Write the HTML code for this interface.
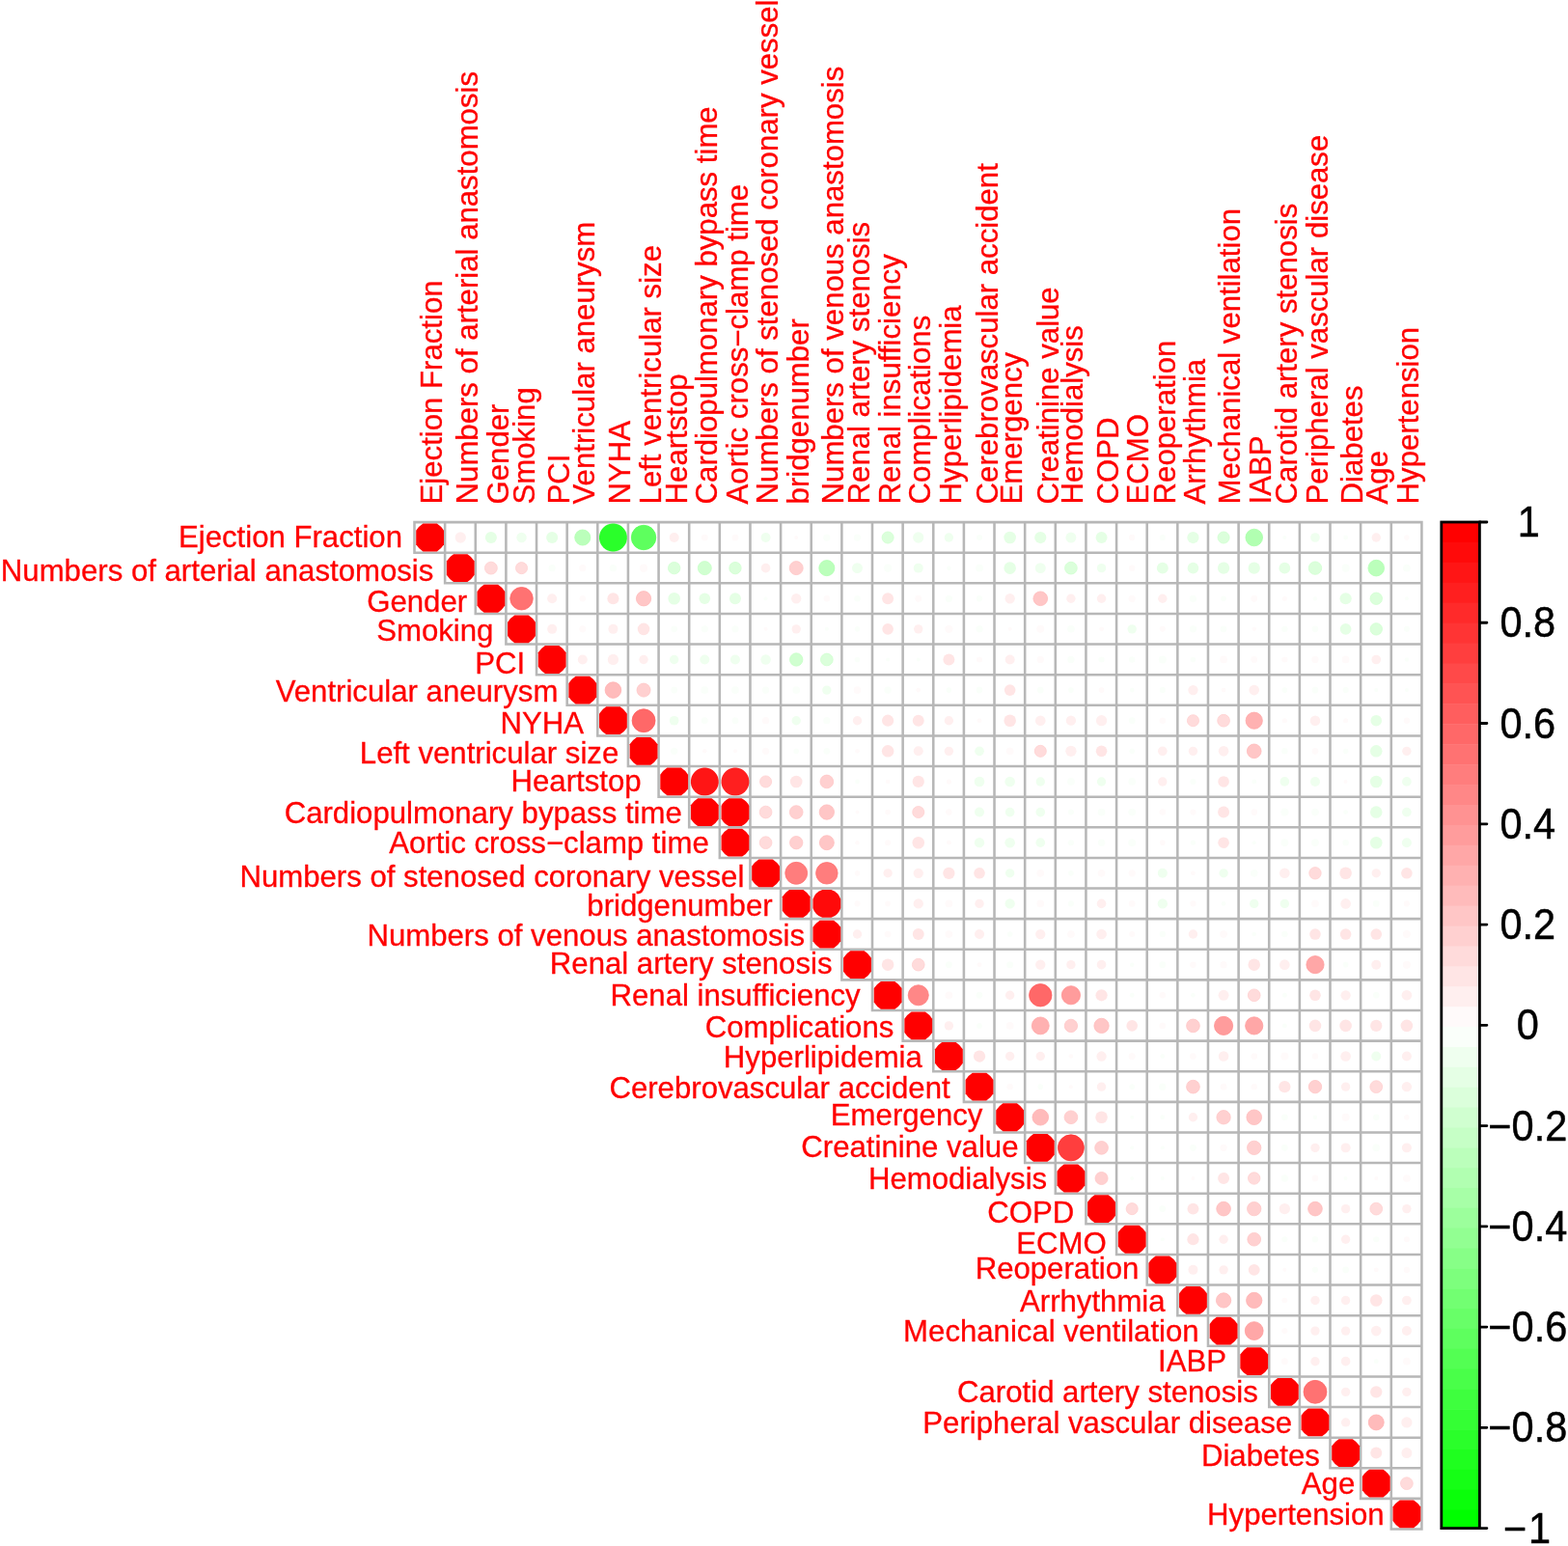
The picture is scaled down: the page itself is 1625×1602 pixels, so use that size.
<!DOCTYPE html>
<html lang="en"><head><meta charset="utf-8"><title>Correlation plot</title>
<style>html,body{margin:0;padding:0;background:#fff}body{width:1625px;height:1602px;overflow:hidden}svg{display:block}text{font-family:"Liberation Sans",Arial,Helvetica,sans-serif}.tl{fill:#ff0000;font-size:31.17px;stroke:#ff0000;stroke-width:0.3px}.cl{fill:#000;font-size:41.5px;text-anchor:middle;stroke:#000;stroke-width:0.45px}</style></head><body>
<svg width="1625" height="1602" viewBox="0 0 1625 1602">
<rect width="1625" height="1602" fill="#fff"/>
<path d="M428.23 541.10H1474.68M428.23 572.72H1474.68M459.86 604.34H1474.68M491.49 635.95H1474.68M523.12 667.57H1474.68M554.76 699.19H1474.68M586.39 730.81H1474.68M618.02 762.43H1474.68M649.66 794.05H1474.68M681.29 825.66H1474.68M712.93 857.28H1474.68M744.56 888.90H1474.68M776.19 920.52H1474.68M807.83 952.14H1474.68M839.46 983.75H1474.68M871.09 1015.37H1474.68M902.73 1046.99H1474.68M934.36 1078.61H1474.68M965.99 1110.23H1474.68M997.63 1141.85H1474.68M1029.26 1173.46H1474.68M1060.89 1205.08H1474.68M1092.53 1236.70H1474.68M1124.16 1268.32H1474.68M1155.79 1299.94H1474.68M1187.42 1331.55H1474.68M1219.06 1363.17H1474.68M1250.69 1394.79H1474.68M1282.33 1426.41H1474.68M1313.96 1458.03H1474.68M1345.59 1489.65H1474.68M1377.22 1521.26H1474.68M1408.86 1552.88H1474.68M1440.49 1584.50H1474.68M429.50 539.83V573.99M461.13 539.83V605.61M492.77 539.83V637.23M524.40 539.83V668.85M556.03 539.83V700.47M587.67 539.83V732.08M619.30 539.83V763.70M650.93 539.83V795.32M682.57 539.83V826.94M714.20 539.83V858.56M745.83 539.83V890.18M777.47 539.83V921.79M809.10 539.83V953.41M840.73 539.83V985.03M872.37 539.83V1016.65M904.00 539.83V1048.27M935.63 539.83V1079.88M967.27 539.83V1111.50M998.90 539.83V1143.12M1030.53 539.83V1174.74M1062.17 539.83V1206.36M1093.80 539.83V1237.98M1125.43 539.83V1269.59M1157.07 539.83V1301.21M1188.70 539.83V1332.83M1220.33 539.83V1364.45M1251.97 539.83V1396.07M1283.60 539.83V1427.68M1315.23 539.83V1459.30M1346.87 539.83V1490.92M1378.50 539.83V1522.54M1410.13 539.83V1554.16M1441.77 539.83V1585.78M1473.40 539.83V1585.78" stroke="#b7b7b7" stroke-width="2.55" fill="none"/>
<path d="M438.42 542.61L452.82 542.61A22.54 22.54 0 0 1 460.02 549.81L460.02 564.21A22.54 22.54 0 0 1 452.82 571.41L438.42 571.41A22.54 22.54 0 0 1 431.22 564.21L431.22 549.81A22.54 22.54 0 0 1 438.42 542.61Z" fill="#ff0000"/>
<circle cx="477.25" cy="557.01" r="5.64" fill="#ffefef"/>
<circle cx="508.88" cy="557.01" r="6.04" fill="#e5ffe5"/>
<circle cx="540.52" cy="557.01" r="5.23" fill="#efffef"/>
<circle cx="572.15" cy="557.01" r="6.04" fill="#e5ffe5"/>
<circle cx="603.78" cy="557.01" r="8.05" fill="#bbffbb" stroke="#b1ffb1" stroke-width="0.8"/>
<path d="M634.22 542.61L636.62 542.61A14.45 14.45 0 0 1 649.82 555.81L649.82 558.21A14.45 14.45 0 0 1 636.62 571.41L634.22 571.41A14.45 14.45 0 0 1 621.02 558.21L621.02 555.81A14.45 14.45 0 0 1 634.22 542.61Z" fill="#2aff2a"/>
<circle cx="667.05" cy="557.01" r="12.71" fill="#5eff5e" stroke="#53ff53" stroke-width="0.8"/>
<circle cx="698.68" cy="557.01" r="4.99" fill="#ffefef"/>
<circle cx="730.32" cy="557.01" r="3.38" fill="#fffafa"/>
<circle cx="761.95" cy="557.01" r="3.38" fill="#fffafa"/>
<circle cx="793.58" cy="557.01" r="4.99" fill="#efffef"/>
<circle cx="825.22" cy="557.01" r="2.01" fill="#fffafa"/>
<circle cx="856.85" cy="557.01" r="3.62" fill="#fafffa"/>
<circle cx="888.48" cy="557.01" r="3.62" fill="#fafffa"/>
<circle cx="920.12" cy="557.01" r="6.04" fill="#dbffdb" stroke="#d0ffd0" stroke-width="0.8"/>
<circle cx="951.75" cy="557.01" r="5.64" fill="#efffef"/>
<circle cx="983.38" cy="557.01" r="4.68" fill="#efffef"/>
<circle cx="1015.02" cy="557.01" r="3.06" fill="#fafffa"/>
<circle cx="1046.65" cy="557.01" r="6.28" fill="#e5ffe5"/>
<circle cx="1078.28" cy="557.01" r="6.12" fill="#e5ffe5"/>
<circle cx="1109.92" cy="557.01" r="5.47" fill="#efffef"/>
<circle cx="1141.55" cy="557.01" r="5.96" fill="#e5ffe5"/>
<circle cx="1173.18" cy="557.01" r="3.22" fill="#fffafa"/>
<circle cx="1204.82" cy="557.01" r="3.06" fill="#fafffa"/>
<circle cx="1236.45" cy="557.01" r="6.12" fill="#e5ffe5"/>
<circle cx="1268.08" cy="557.01" r="6.04" fill="#dbffdb" stroke="#d0ffd0" stroke-width="0.8"/>
<circle cx="1299.72" cy="557.01" r="8.78" fill="#b1ffb1" stroke="#a7ffa7" stroke-width="0.8"/>
<circle cx="1331.35" cy="557.01" r="2.01" fill="#fafffa"/>
<circle cx="1362.98" cy="557.01" r="4.83" fill="#efffef"/>
<circle cx="1394.62" cy="557.01" r="2.42" fill="#fafffa"/>
<circle cx="1426.25" cy="557.01" r="4.68" fill="#ffefef"/>
<circle cx="1457.88" cy="557.01" r="2.82" fill="#fffafa"/>
<path d="M470.05 574.23L484.45 574.23A22.54 22.54 0 0 1 491.65 581.43L491.65 595.83A22.54 22.54 0 0 1 484.45 603.03L470.05 603.03A22.54 22.54 0 0 1 462.85 595.83L462.85 581.43A22.54 22.54 0 0 1 470.05 574.23Z" fill="#ff0000"/>
<circle cx="508.88" cy="588.63" r="6.44" fill="#ffdbdb" stroke="#ffd0d0" stroke-width="0.8"/>
<circle cx="540.52" cy="588.63" r="6.04" fill="#ffdbdb" stroke="#ffd0d0" stroke-width="0.8"/>
<circle cx="572.15" cy="588.63" r="3.62" fill="#fafffa"/>
<circle cx="603.78" cy="588.63" r="3.62" fill="#fffafa"/>
<circle cx="635.42" cy="588.63" r="3.62" fill="#fafffa"/>
<circle cx="667.05" cy="588.63" r="4.03" fill="#fffafa"/>
<circle cx="698.68" cy="588.63" r="6.20" fill="#dbffdb" stroke="#d0ffd0" stroke-width="0.8"/>
<circle cx="730.32" cy="588.63" r="7.01" fill="#d0ffd0" stroke="#c6ffc6" stroke-width="0.8"/>
<circle cx="761.95" cy="588.63" r="6.20" fill="#dbffdb" stroke="#d0ffd0" stroke-width="0.8"/>
<circle cx="793.58" cy="588.63" r="4.83" fill="#ffefef"/>
<circle cx="825.22" cy="588.63" r="7.01" fill="#ffd0d0" stroke="#ffc6c6" stroke-width="0.8"/>
<circle cx="856.85" cy="588.63" r="8.05" fill="#bbffbb" stroke="#b1ffb1" stroke-width="0.8"/>
<circle cx="888.48" cy="588.63" r="5.47" fill="#efffef"/>
<circle cx="920.12" cy="588.63" r="4.03" fill="#fafffa"/>
<circle cx="951.75" cy="588.63" r="4.99" fill="#efffef"/>
<circle cx="983.38" cy="588.63" r="2.25" fill="#fafffa"/>
<circle cx="1015.02" cy="588.63" r="3.86" fill="#fafffa"/>
<circle cx="1046.65" cy="588.63" r="6.28" fill="#e5ffe5"/>
<circle cx="1078.28" cy="588.63" r="5.47" fill="#efffef"/>
<circle cx="1109.92" cy="588.63" r="6.36" fill="#dbffdb" stroke="#d0ffd0" stroke-width="0.8"/>
<circle cx="1141.55" cy="588.63" r="4.68" fill="#efffef"/>
<circle cx="1173.18" cy="588.63" r="3.22" fill="#fffafa"/>
<circle cx="1204.82" cy="588.63" r="5.96" fill="#e5ffe5"/>
<circle cx="1236.45" cy="588.63" r="5.80" fill="#e5ffe5"/>
<circle cx="1268.08" cy="588.63" r="6.12" fill="#e5ffe5"/>
<circle cx="1299.72" cy="588.63" r="6.12" fill="#e5ffe5"/>
<circle cx="1331.35" cy="588.63" r="5.88" fill="#e5ffe5"/>
<circle cx="1362.98" cy="588.63" r="6.69" fill="#dbffdb" stroke="#d0ffd0" stroke-width="0.8"/>
<circle cx="1394.62" cy="588.63" r="4.03" fill="#fafffa"/>
<circle cx="1426.25" cy="588.63" r="8.30" fill="#bbffbb" stroke="#b1ffb1" stroke-width="0.8"/>
<circle cx="1457.88" cy="588.63" r="3.86" fill="#fafffa"/>
<path d="M501.68 605.85L516.08 605.85A22.54 22.54 0 0 1 523.28 613.04L523.28 627.45A22.54 22.54 0 0 1 516.08 634.65L501.68 634.65A22.54 22.54 0 0 1 494.48 627.45L494.48 613.04A22.54 22.54 0 0 1 501.68 605.85Z" fill="#ff0000"/>
<circle cx="540.52" cy="620.25" r="11.76" fill="#ff7272" stroke="#ff6868" stroke-width="0.8"/>
<circle cx="572.15" cy="620.25" r="4.99" fill="#ffefef"/>
<circle cx="603.78" cy="620.25" r="3.22" fill="#fffafa"/>
<circle cx="635.42" cy="620.25" r="6.04" fill="#ffe5e5"/>
<circle cx="667.05" cy="620.25" r="7.65" fill="#ffc6c6" stroke="#ffbbbb" stroke-width="0.8"/>
<circle cx="698.68" cy="620.25" r="6.28" fill="#e5ffe5"/>
<circle cx="730.32" cy="620.25" r="5.80" fill="#e5ffe5"/>
<circle cx="761.95" cy="620.25" r="5.96" fill="#e5ffe5"/>
<circle cx="793.58" cy="620.25" r="2.01" fill="#fafffa"/>
<circle cx="825.22" cy="620.25" r="5.15" fill="#ffefef"/>
<circle cx="856.85" cy="620.25" r="3.22" fill="#fffafa"/>
<circle cx="888.48" cy="620.25" r="3.22" fill="#fafffa"/>
<circle cx="920.12" cy="620.25" r="5.96" fill="#ffe5e5"/>
<circle cx="951.75" cy="620.25" r="3.38" fill="#fffafa"/>
<circle cx="983.38" cy="620.25" r="3.62" fill="#fafffa"/>
<circle cx="1015.02" cy="620.25" r="3.22" fill="#fafffa"/>
<circle cx="1046.65" cy="620.25" r="5.15" fill="#ffefef"/>
<circle cx="1078.28" cy="620.25" r="7.33" fill="#ffc6c6" stroke="#ffbbbb" stroke-width="0.8"/>
<circle cx="1109.92" cy="620.25" r="4.68" fill="#ffefef"/>
<circle cx="1141.55" cy="620.25" r="4.68" fill="#ffefef"/>
<circle cx="1173.18" cy="620.25" r="3.62" fill="#fffafa"/>
<circle cx="1204.82" cy="620.25" r="4.68" fill="#ffefef"/>
<circle cx="1236.45" cy="620.25" r="3.62" fill="#fafffa"/>
<circle cx="1268.08" cy="620.25" r="2.82" fill="#fafffa"/>
<circle cx="1299.72" cy="620.25" r="3.38" fill="#fffafa"/>
<circle cx="1331.35" cy="620.25" r="2.57" fill="#fffafa"/>
<circle cx="1362.98" cy="620.25" r="2.25" fill="#fafffa"/>
<circle cx="1394.62" cy="620.25" r="6.12" fill="#e5ffe5"/>
<circle cx="1426.25" cy="620.25" r="6.20" fill="#dbffdb" stroke="#d0ffd0" stroke-width="0.8"/>
<circle cx="1457.88" cy="620.25" r="2.01" fill="#fafffa"/>
<path d="M533.32 637.46L547.72 637.46A22.54 22.54 0 0 1 554.92 644.66L554.92 659.06A22.54 22.54 0 0 1 547.72 666.26L533.32 666.26A22.54 22.54 0 0 1 526.12 659.06L526.12 644.66A22.54 22.54 0 0 1 533.32 637.46Z" fill="#ff0000"/>
<circle cx="572.15" cy="651.86" r="4.99" fill="#ffefef"/>
<circle cx="603.78" cy="651.86" r="3.62" fill="#fffafa"/>
<circle cx="635.42" cy="651.86" r="4.99" fill="#ffefef"/>
<circle cx="667.05" cy="651.86" r="6.28" fill="#ffe5e5"/>
<circle cx="698.68" cy="651.86" r="3.38" fill="#fafffa"/>
<circle cx="730.32" cy="651.86" r="3.62" fill="#fafffa"/>
<circle cx="761.95" cy="651.86" r="3.62" fill="#fafffa"/>
<circle cx="793.58" cy="651.86" r="2.01" fill="#fffafa"/>
<circle cx="825.22" cy="651.86" r="4.68" fill="#ffefef"/>
<circle cx="856.85" cy="651.86" r="2.01" fill="#fafffa"/>
<circle cx="888.48" cy="651.86" r="2.82" fill="#fafffa"/>
<circle cx="920.12" cy="651.86" r="5.80" fill="#ffe5e5"/>
<circle cx="951.75" cy="651.86" r="4.68" fill="#ffefef"/>
<circle cx="983.38" cy="651.86" r="4.19" fill="#fffafa"/>
<circle cx="1015.02" cy="651.86" r="3.62" fill="#fafffa"/>
<circle cx="1046.65" cy="651.86" r="2.01" fill="#fffafa"/>
<circle cx="1078.28" cy="651.86" r="4.03" fill="#fffafa"/>
<circle cx="1109.92" cy="651.86" r="3.86" fill="#fafffa"/>
<circle cx="1141.55" cy="651.86" r="2.42" fill="#fffafa"/>
<circle cx="1173.18" cy="651.86" r="4.68" fill="#efffef"/>
<circle cx="1204.82" cy="651.86" r="3.06" fill="#fffafa"/>
<circle cx="1236.45" cy="651.86" r="3.62" fill="#fafffa"/>
<circle cx="1268.08" cy="651.86" r="3.38" fill="#fafffa"/>
<circle cx="1299.72" cy="651.86" r="2.25" fill="#fffafa"/>
<circle cx="1331.35" cy="651.86" r="3.22" fill="#fafffa"/>
<circle cx="1362.98" cy="651.86" r="3.38" fill="#fafffa"/>
<circle cx="1394.62" cy="651.86" r="5.88" fill="#e5ffe5"/>
<circle cx="1426.25" cy="651.86" r="6.20" fill="#dbffdb" stroke="#d0ffd0" stroke-width="0.8"/>
<circle cx="1457.88" cy="651.86" r="3.06" fill="#fafffa"/>
<path d="M564.95 669.08L579.35 669.08A22.54 22.54 0 0 1 586.55 676.28L586.55 690.68A22.54 22.54 0 0 1 579.35 697.88L564.95 697.88A22.54 22.54 0 0 1 557.75 690.68L557.75 676.28A22.54 22.54 0 0 1 564.95 669.08Z" fill="#ff0000"/>
<circle cx="603.78" cy="683.48" r="4.99" fill="#ffefef"/>
<circle cx="635.42" cy="683.48" r="5.64" fill="#ffefef"/>
<circle cx="667.05" cy="683.48" r="4.68" fill="#ffefef"/>
<circle cx="698.68" cy="683.48" r="4.68" fill="#efffef"/>
<circle cx="730.32" cy="683.48" r="4.99" fill="#efffef"/>
<circle cx="761.95" cy="683.48" r="4.99" fill="#efffef"/>
<circle cx="793.58" cy="683.48" r="5.23" fill="#efffef"/>
<circle cx="825.22" cy="683.48" r="6.69" fill="#d0ffd0" stroke="#c6ffc6" stroke-width="0.8"/>
<circle cx="856.85" cy="683.48" r="6.36" fill="#dbffdb" stroke="#d0ffd0" stroke-width="0.8"/>
<circle cx="888.48" cy="683.48" r="2.82" fill="#fafffa"/>
<circle cx="920.12" cy="683.48" r="2.01" fill="#fafffa"/>
<circle cx="951.75" cy="683.48" r="2.01" fill="#fafffa"/>
<circle cx="983.38" cy="683.48" r="5.96" fill="#ffe5e5"/>
<circle cx="1015.02" cy="683.48" r="3.06" fill="#fffafa"/>
<circle cx="1046.65" cy="683.48" r="4.99" fill="#ffefef"/>
<circle cx="1078.28" cy="683.48" r="3.62" fill="#fffafa"/>
<circle cx="1109.92" cy="683.48" r="3.62" fill="#fafffa"/>
<circle cx="1141.55" cy="683.48" r="3.06" fill="#fafffa"/>
<circle cx="1173.18" cy="683.48" r="3.22" fill="#fafffa"/>
<circle cx="1204.82" cy="683.48" r="4.03" fill="#fafffa"/>
<circle cx="1236.45" cy="683.48" r="2.82" fill="#fafffa"/>
<circle cx="1268.08" cy="683.48" r="3.86" fill="#fffafa"/>
<circle cx="1299.72" cy="683.48" r="3.38" fill="#fffafa"/>
<circle cx="1331.35" cy="683.48" r="3.06" fill="#fffafa"/>
<circle cx="1362.98" cy="683.48" r="3.62" fill="#fffafa"/>
<circle cx="1394.62" cy="683.48" r="3.86" fill="#fffafa"/>
<circle cx="1426.25" cy="683.48" r="4.83" fill="#ffefef"/>
<circle cx="1457.88" cy="683.48" r="2.25" fill="#fafffa"/>
<path d="M596.58 700.70L610.98 700.70A22.54 22.54 0 0 1 618.18 707.90L618.18 722.30A22.54 22.54 0 0 1 610.98 729.50L596.58 729.50A22.54 22.54 0 0 1 589.38 722.30L589.38 707.90A22.54 22.54 0 0 1 596.58 700.70Z" fill="#ff0000"/>
<circle cx="635.42" cy="715.10" r="8.30" fill="#ffbbbb" stroke="#ffb1b1" stroke-width="0.8"/>
<circle cx="667.05" cy="715.10" r="7.01" fill="#ffd0d0" stroke="#ffc6c6" stroke-width="0.8"/>
<circle cx="698.68" cy="715.10" r="3.38" fill="#fafffa"/>
<circle cx="730.32" cy="715.10" r="3.86" fill="#fafffa"/>
<circle cx="761.95" cy="715.10" r="3.86" fill="#fafffa"/>
<circle cx="793.58" cy="715.10" r="3.62" fill="#fafffa"/>
<circle cx="825.22" cy="715.10" r="3.86" fill="#fafffa"/>
<circle cx="856.85" cy="715.10" r="4.68" fill="#efffef"/>
<circle cx="888.48" cy="715.10" r="3.86" fill="#fffafa"/>
<circle cx="920.12" cy="715.10" r="3.62" fill="#fafffa"/>
<circle cx="951.75" cy="715.10" r="2.42" fill="#fffafa"/>
<circle cx="983.38" cy="715.10" r="2.82" fill="#fafffa"/>
<circle cx="1015.02" cy="715.10" r="3.38" fill="#fafffa"/>
<circle cx="1046.65" cy="715.10" r="5.80" fill="#ffe5e5"/>
<circle cx="1078.28" cy="715.10" r="3.38" fill="#fafffa"/>
<circle cx="1109.92" cy="715.10" r="2.82" fill="#fafffa"/>
<circle cx="1141.55" cy="715.10" r="2.82" fill="#fffafa"/>
<circle cx="1173.18" cy="715.10" r="2.42" fill="#fafffa"/>
<circle cx="1204.82" cy="715.10" r="3.06" fill="#fafffa"/>
<circle cx="1236.45" cy="715.10" r="5.15" fill="#ffefef"/>
<circle cx="1268.08" cy="715.10" r="2.42" fill="#fffafa"/>
<circle cx="1299.72" cy="715.10" r="5.31" fill="#ffefef"/>
<circle cx="1331.35" cy="715.10" r="2.82" fill="#fafffa"/>
<circle cx="1362.98" cy="715.10" r="3.38" fill="#fafffa"/>
<circle cx="1394.62" cy="715.10" r="3.06" fill="#fafffa"/>
<circle cx="1426.25" cy="715.10" r="2.01" fill="#fafffa"/>
<circle cx="1457.88" cy="715.10" r="2.01" fill="#fafffa"/>
<path d="M628.22 732.32L642.62 732.32A22.54 22.54 0 0 1 649.82 739.52L649.82 753.92A22.54 22.54 0 0 1 642.62 761.12L628.22 761.12A22.54 22.54 0 0 1 621.02 753.92L621.02 739.52A22.54 22.54 0 0 1 628.22 732.32Z" fill="#ff0000"/>
<circle cx="667.05" cy="746.72" r="11.95" fill="#ff6868" stroke="#ff5e5e" stroke-width="0.8"/>
<circle cx="698.68" cy="746.72" r="4.83" fill="#efffef"/>
<circle cx="730.32" cy="746.72" r="3.38" fill="#fafffa"/>
<circle cx="761.95" cy="746.72" r="3.38" fill="#fafffa"/>
<circle cx="793.58" cy="746.72" r="3.62" fill="#fffafa"/>
<circle cx="825.22" cy="746.72" r="4.68" fill="#efffef"/>
<circle cx="856.85" cy="746.72" r="3.62" fill="#fafffa"/>
<circle cx="888.48" cy="746.72" r="4.68" fill="#ffefef"/>
<circle cx="920.12" cy="746.72" r="6.12" fill="#ffe5e5"/>
<circle cx="951.75" cy="746.72" r="5.96" fill="#ffe5e5"/>
<circle cx="983.38" cy="746.72" r="4.68" fill="#ffefef"/>
<circle cx="1015.02" cy="746.72" r="2.42" fill="#fffafa"/>
<circle cx="1046.65" cy="746.72" r="6.28" fill="#ffe5e5"/>
<circle cx="1078.28" cy="746.72" r="5.31" fill="#ffefef"/>
<circle cx="1109.92" cy="746.72" r="5.15" fill="#ffefef"/>
<circle cx="1141.55" cy="746.72" r="5.64" fill="#ffefef"/>
<circle cx="1173.18" cy="746.72" r="3.38" fill="#fafffa"/>
<circle cx="1204.82" cy="746.72" r="3.22" fill="#fffafa"/>
<circle cx="1236.45" cy="746.72" r="6.04" fill="#ffdbdb" stroke="#ffd0d0" stroke-width="0.8"/>
<circle cx="1268.08" cy="746.72" r="6.36" fill="#ffdbdb" stroke="#ffd0d0" stroke-width="0.8"/>
<circle cx="1299.72" cy="746.72" r="8.62" fill="#ffb1b1" stroke="#ffa7a7" stroke-width="0.8"/>
<circle cx="1331.35" cy="746.72" r="2.57" fill="#fffafa"/>
<circle cx="1362.98" cy="746.72" r="5.31" fill="#ffefef"/>
<circle cx="1394.62" cy="746.72" r="2.57" fill="#fffafa"/>
<circle cx="1426.25" cy="746.72" r="5.80" fill="#e5ffe5"/>
<circle cx="1457.88" cy="746.72" r="3.22" fill="#fffafa"/>
<path d="M659.85 763.94L674.25 763.94A22.54 22.54 0 0 1 681.45 771.14L681.45 785.54A22.54 22.54 0 0 1 674.25 792.74L659.85 792.74A22.54 22.54 0 0 1 652.65 785.54L652.65 771.14A22.54 22.54 0 0 1 659.85 763.94Z" fill="#ff0000"/>
<circle cx="698.68" cy="778.34" r="3.62" fill="#fafffa"/>
<circle cx="730.32" cy="778.34" r="2.25" fill="#fffafa"/>
<circle cx="761.95" cy="778.34" r="2.01" fill="#fffafa"/>
<circle cx="793.58" cy="778.34" r="3.62" fill="#fffafa"/>
<circle cx="825.22" cy="778.34" r="2.82" fill="#fafffa"/>
<circle cx="856.85" cy="778.34" r="3.38" fill="#fafffa"/>
<circle cx="888.48" cy="778.34" r="2.42" fill="#fffafa"/>
<circle cx="920.12" cy="778.34" r="6.28" fill="#ffe5e5"/>
<circle cx="951.75" cy="778.34" r="4.99" fill="#ffefef"/>
<circle cx="983.38" cy="778.34" r="4.68" fill="#ffefef"/>
<circle cx="1015.02" cy="778.34" r="4.83" fill="#efffef"/>
<circle cx="1046.65" cy="778.34" r="3.86" fill="#fffafa"/>
<circle cx="1078.28" cy="778.34" r="6.04" fill="#ffdbdb" stroke="#ffd0d0" stroke-width="0.8"/>
<circle cx="1109.92" cy="778.34" r="5.64" fill="#ffefef"/>
<circle cx="1141.55" cy="778.34" r="5.80" fill="#ffe5e5"/>
<circle cx="1173.18" cy="778.34" r="2.82" fill="#fafffa"/>
<circle cx="1204.82" cy="778.34" r="4.83" fill="#ffefef"/>
<circle cx="1236.45" cy="778.34" r="4.68" fill="#ffefef"/>
<circle cx="1268.08" cy="778.34" r="5.31" fill="#ffefef"/>
<circle cx="1299.72" cy="778.34" r="7.33" fill="#ffc6c6" stroke="#ffbbbb" stroke-width="0.8"/>
<circle cx="1331.35" cy="778.34" r="3.22" fill="#fafffa"/>
<circle cx="1362.98" cy="778.34" r="3.38" fill="#fffafa"/>
<circle cx="1394.62" cy="778.34" r="2.82" fill="#fafffa"/>
<circle cx="1426.25" cy="778.34" r="6.28" fill="#e5ffe5"/>
<circle cx="1457.88" cy="778.34" r="4.68" fill="#ffefef"/>
<path d="M691.48 795.55L705.88 795.55A22.54 22.54 0 0 1 713.08 802.75L713.08 817.16A22.54 22.54 0 0 1 705.88 824.35L691.48 824.35A22.54 22.54 0 0 1 684.28 817.16L684.28 802.75A22.54 22.54 0 0 1 691.48 795.55Z" fill="#ff0000"/>
<path d="M729.12 795.55L731.52 795.55A14.45 14.45 0 0 1 744.72 808.75L744.72 811.16A14.45 14.45 0 0 1 731.52 824.35L729.12 824.35A14.45 14.45 0 0 1 715.92 811.16L715.92 808.75A14.45 14.45 0 0 1 729.12 795.55Z" fill="#ff1515"/>
<path d="M760.75 795.55L763.15 795.55A14.45 14.45 0 0 1 776.35 808.75L776.35 811.16A14.45 14.45 0 0 1 763.15 824.35L760.75 824.35A14.45 14.45 0 0 1 747.55 811.16L747.55 808.75A14.45 14.45 0 0 1 760.75 795.55Z" fill="#ff1f1f"/>
<circle cx="793.58" cy="809.95" r="6.04" fill="#ffdbdb" stroke="#ffd0d0" stroke-width="0.8"/>
<circle cx="825.22" cy="809.95" r="6.28" fill="#ffe5e5"/>
<circle cx="856.85" cy="809.95" r="6.85" fill="#ffd0d0" stroke="#ffc6c6" stroke-width="0.8"/>
<circle cx="888.48" cy="809.95" r="2.42" fill="#fafffa"/>
<circle cx="920.12" cy="809.95" r="2.25" fill="#fffafa"/>
<circle cx="951.75" cy="809.95" r="6.12" fill="#ffe5e5"/>
<circle cx="983.38" cy="809.95" r="2.57" fill="#fffafa"/>
<circle cx="1015.02" cy="809.95" r="5.31" fill="#efffef"/>
<circle cx="1046.65" cy="809.95" r="5.31" fill="#efffef"/>
<circle cx="1078.28" cy="809.95" r="4.68" fill="#efffef"/>
<circle cx="1109.92" cy="809.95" r="3.86" fill="#fafffa"/>
<circle cx="1141.55" cy="809.95" r="4.68" fill="#efffef"/>
<circle cx="1173.18" cy="809.95" r="3.86" fill="#fafffa"/>
<circle cx="1204.82" cy="809.95" r="4.68" fill="#ffefef"/>
<circle cx="1236.45" cy="809.95" r="3.06" fill="#fafffa"/>
<circle cx="1268.08" cy="809.95" r="5.80" fill="#ffe5e5"/>
<circle cx="1299.72" cy="809.95" r="2.42" fill="#fafffa"/>
<circle cx="1331.35" cy="809.95" r="4.83" fill="#efffef"/>
<circle cx="1362.98" cy="809.95" r="4.99" fill="#efffef"/>
<circle cx="1394.62" cy="809.95" r="2.01" fill="#fffafa"/>
<circle cx="1426.25" cy="809.95" r="6.28" fill="#e5ffe5"/>
<circle cx="1457.88" cy="809.95" r="4.83" fill="#efffef"/>
<path d="M723.12 827.17L737.52 827.17A22.54 22.54 0 0 1 744.72 834.37L744.72 848.77A22.54 22.54 0 0 1 737.52 855.97L723.12 855.97A22.54 22.54 0 0 1 715.92 848.77L715.92 834.37A22.54 22.54 0 0 1 723.12 827.17Z" fill="#ff0000"/>
<path d="M755.32 827.17L768.58 827.17A15.85 15.85 0 0 1 776.35 834.94L776.35 848.20A15.85 15.85 0 0 1 768.58 855.97L755.32 855.97A15.85 15.85 0 0 1 747.55 848.20L747.55 834.94A15.85 15.85 0 0 1 755.32 827.17Z" fill="#ff0000"/>
<circle cx="793.58" cy="841.57" r="6.36" fill="#ffdbdb" stroke="#ffd0d0" stroke-width="0.8"/>
<circle cx="825.22" cy="841.57" r="6.85" fill="#ffd0d0" stroke="#ffc6c6" stroke-width="0.8"/>
<circle cx="856.85" cy="841.57" r="7.65" fill="#ffc6c6" stroke="#ffbbbb" stroke-width="0.8"/>
<circle cx="888.48" cy="841.57" r="2.01" fill="#fffafa"/>
<circle cx="920.12" cy="841.57" r="2.82" fill="#fffafa"/>
<circle cx="951.75" cy="841.57" r="6.04" fill="#ffdbdb" stroke="#ffd0d0" stroke-width="0.8"/>
<circle cx="983.38" cy="841.57" r="3.22" fill="#fffafa"/>
<circle cx="1015.02" cy="841.57" r="4.99" fill="#efffef"/>
<circle cx="1046.65" cy="841.57" r="4.83" fill="#efffef"/>
<circle cx="1078.28" cy="841.57" r="4.83" fill="#efffef"/>
<circle cx="1109.92" cy="841.57" r="3.06" fill="#fafffa"/>
<circle cx="1141.55" cy="841.57" r="3.86" fill="#fafffa"/>
<circle cx="1173.18" cy="841.57" r="3.86" fill="#fafffa"/>
<circle cx="1204.82" cy="841.57" r="3.22" fill="#fffafa"/>
<circle cx="1236.45" cy="841.57" r="3.06" fill="#fffafa"/>
<circle cx="1268.08" cy="841.57" r="5.96" fill="#ffe5e5"/>
<circle cx="1299.72" cy="841.57" r="3.38" fill="#fffafa"/>
<circle cx="1331.35" cy="841.57" r="4.03" fill="#fafffa"/>
<circle cx="1362.98" cy="841.57" r="3.86" fill="#fafffa"/>
<circle cx="1394.62" cy="841.57" r="2.42" fill="#fafffa"/>
<circle cx="1426.25" cy="841.57" r="6.28" fill="#e5ffe5"/>
<circle cx="1457.88" cy="841.57" r="4.83" fill="#efffef"/>
<path d="M754.75 858.79L769.15 858.79A22.54 22.54 0 0 1 776.35 865.99L776.35 880.39A22.54 22.54 0 0 1 769.15 887.59L754.75 887.59A22.54 22.54 0 0 1 747.55 880.39L747.55 865.99A22.54 22.54 0 0 1 754.75 858.79Z" fill="#ff0000"/>
<circle cx="793.58" cy="873.19" r="6.36" fill="#ffdbdb" stroke="#ffd0d0" stroke-width="0.8"/>
<circle cx="825.22" cy="873.19" r="6.69" fill="#ffd0d0" stroke="#ffc6c6" stroke-width="0.8"/>
<circle cx="856.85" cy="873.19" r="7.49" fill="#ffc6c6" stroke="#ffbbbb" stroke-width="0.8"/>
<circle cx="888.48" cy="873.19" r="2.25" fill="#fffafa"/>
<circle cx="920.12" cy="873.19" r="3.06" fill="#fffafa"/>
<circle cx="951.75" cy="873.19" r="6.28" fill="#ffe5e5"/>
<circle cx="983.38" cy="873.19" r="2.42" fill="#fffafa"/>
<circle cx="1015.02" cy="873.19" r="5.15" fill="#efffef"/>
<circle cx="1046.65" cy="873.19" r="5.31" fill="#efffef"/>
<circle cx="1078.28" cy="873.19" r="4.83" fill="#efffef"/>
<circle cx="1109.92" cy="873.19" r="3.06" fill="#fafffa"/>
<circle cx="1141.55" cy="873.19" r="3.62" fill="#fafffa"/>
<circle cx="1173.18" cy="873.19" r="3.86" fill="#fafffa"/>
<circle cx="1204.82" cy="873.19" r="2.82" fill="#fffafa"/>
<circle cx="1236.45" cy="873.19" r="2.57" fill="#fafffa"/>
<circle cx="1268.08" cy="873.19" r="5.80" fill="#ffe5e5"/>
<circle cx="1299.72" cy="873.19" r="2.01" fill="#fafffa"/>
<circle cx="1331.35" cy="873.19" r="3.86" fill="#fafffa"/>
<circle cx="1362.98" cy="873.19" r="3.86" fill="#fafffa"/>
<circle cx="1394.62" cy="873.19" r="3.22" fill="#fafffa"/>
<circle cx="1426.25" cy="873.19" r="6.28" fill="#e5ffe5"/>
<circle cx="1457.88" cy="873.19" r="4.99" fill="#efffef"/>
<path d="M786.38 890.41L800.78 890.41A22.54 22.54 0 0 1 807.98 897.61L807.98 912.01A22.54 22.54 0 0 1 800.78 919.21L786.38 919.21A22.54 22.54 0 0 1 779.18 912.01L779.18 897.61A22.54 22.54 0 0 1 786.38 890.41Z" fill="#ff0000"/>
<circle cx="825.22" cy="904.81" r="11.45" fill="#ff7d7d" stroke="#ff7272" stroke-width="0.8"/>
<circle cx="856.85" cy="904.81" r="11.25" fill="#ff7d7d" stroke="#ff7272" stroke-width="0.8"/>
<circle cx="888.48" cy="904.81" r="2.82" fill="#fffafa"/>
<circle cx="920.12" cy="904.81" r="4.68" fill="#ffefef"/>
<circle cx="951.75" cy="904.81" r="5.15" fill="#ffefef"/>
<circle cx="983.38" cy="904.81" r="6.12" fill="#ffe5e5"/>
<circle cx="1015.02" cy="904.81" r="5.80" fill="#ffe5e5"/>
<circle cx="1046.65" cy="904.81" r="4.68" fill="#efffef"/>
<circle cx="1078.28" cy="904.81" r="3.86" fill="#fffafa"/>
<circle cx="1109.92" cy="904.81" r="2.82" fill="#fafffa"/>
<circle cx="1141.55" cy="904.81" r="3.86" fill="#fffafa"/>
<circle cx="1173.18" cy="904.81" r="3.62" fill="#fffafa"/>
<circle cx="1204.82" cy="904.81" r="4.99" fill="#efffef"/>
<circle cx="1236.45" cy="904.81" r="2.42" fill="#fffafa"/>
<circle cx="1268.08" cy="904.81" r="4.68" fill="#efffef"/>
<circle cx="1299.72" cy="904.81" r="3.86" fill="#fafffa"/>
<circle cx="1331.35" cy="904.81" r="5.31" fill="#ffefef"/>
<circle cx="1362.98" cy="904.81" r="6.20" fill="#ffdbdb" stroke="#ffd0d0" stroke-width="0.8"/>
<circle cx="1394.62" cy="904.81" r="6.28" fill="#ffe5e5"/>
<circle cx="1426.25" cy="904.81" r="4.68" fill="#ffefef"/>
<circle cx="1457.88" cy="904.81" r="5.80" fill="#ffe5e5"/>
<path d="M818.02 922.03L832.42 922.03A22.54 22.54 0 0 1 839.62 929.23L839.62 943.63A22.54 22.54 0 0 1 832.42 950.83L818.02 950.83A22.54 22.54 0 0 1 810.82 943.63L810.82 929.23A22.54 22.54 0 0 1 818.02 922.03Z" fill="#ff0000"/>
<path d="M852.27 922.03L861.43 922.03A15.11 15.11 0 0 1 871.25 931.85L871.25 941.00A15.11 15.11 0 0 1 861.43 950.83L852.27 950.83A15.11 15.11 0 0 1 842.45 941.00L842.45 931.85A15.11 15.11 0 0 1 852.27 922.03Z" fill="#ff0a0a"/>
<circle cx="888.48" cy="936.43" r="3.06" fill="#fffafa"/>
<circle cx="920.12" cy="936.43" r="2.82" fill="#fffafa"/>
<circle cx="951.75" cy="936.43" r="5.15" fill="#ffefef"/>
<circle cx="983.38" cy="936.43" r="3.86" fill="#fffafa"/>
<circle cx="1015.02" cy="936.43" r="4.68" fill="#ffefef"/>
<circle cx="1046.65" cy="936.43" r="5.15" fill="#efffef"/>
<circle cx="1078.28" cy="936.43" r="3.86" fill="#fffafa"/>
<circle cx="1109.92" cy="936.43" r="3.06" fill="#fafffa"/>
<circle cx="1141.55" cy="936.43" r="4.83" fill="#ffefef"/>
<circle cx="1173.18" cy="936.43" r="3.38" fill="#fffafa"/>
<circle cx="1204.82" cy="936.43" r="5.15" fill="#efffef"/>
<circle cx="1236.45" cy="936.43" r="3.06" fill="#fffafa"/>
<circle cx="1268.08" cy="936.43" r="2.42" fill="#fafffa"/>
<circle cx="1299.72" cy="936.43" r="4.68" fill="#efffef"/>
<circle cx="1331.35" cy="936.43" r="4.68" fill="#efffef"/>
<circle cx="1362.98" cy="936.43" r="3.86" fill="#fffafa"/>
<circle cx="1394.62" cy="936.43" r="5.31" fill="#ffefef"/>
<circle cx="1426.25" cy="936.43" r="3.38" fill="#fafffa"/>
<circle cx="1457.88" cy="936.43" r="3.06" fill="#fffafa"/>
<path d="M849.65 953.65L864.05 953.65A22.54 22.54 0 0 1 871.25 960.84L871.25 975.25A22.54 22.54 0 0 1 864.05 982.45L849.65 982.45A22.54 22.54 0 0 1 842.45 975.25L842.45 960.84A22.54 22.54 0 0 1 849.65 953.65Z" fill="#ff0000"/>
<circle cx="888.48" cy="968.05" r="4.68" fill="#ffefef"/>
<circle cx="920.12" cy="968.05" r="3.38" fill="#fffafa"/>
<circle cx="951.75" cy="968.05" r="5.96" fill="#ffe5e5"/>
<circle cx="983.38" cy="968.05" r="3.86" fill="#fffafa"/>
<circle cx="1015.02" cy="968.05" r="4.99" fill="#ffefef"/>
<circle cx="1046.65" cy="968.05" r="2.82" fill="#fafffa"/>
<circle cx="1078.28" cy="968.05" r="5.15" fill="#ffefef"/>
<circle cx="1109.92" cy="968.05" r="3.86" fill="#fffafa"/>
<circle cx="1141.55" cy="968.05" r="5.31" fill="#ffefef"/>
<circle cx="1173.18" cy="968.05" r="3.06" fill="#fffafa"/>
<circle cx="1204.82" cy="968.05" r="3.22" fill="#fafffa"/>
<circle cx="1236.45" cy="968.05" r="4.68" fill="#ffefef"/>
<circle cx="1268.08" cy="968.05" r="3.86" fill="#fffafa"/>
<circle cx="1299.72" cy="968.05" r="2.25" fill="#fafffa"/>
<circle cx="1331.35" cy="968.05" r="3.22" fill="#fafffa"/>
<circle cx="1362.98" cy="968.05" r="5.80" fill="#ffe5e5"/>
<circle cx="1394.62" cy="968.05" r="5.80" fill="#ffe5e5"/>
<circle cx="1426.25" cy="968.05" r="5.80" fill="#ffe5e5"/>
<circle cx="1457.88" cy="968.05" r="4.03" fill="#fffafa"/>
<path d="M881.28 985.26L895.68 985.26A22.54 22.54 0 0 1 902.88 992.46L902.88 1006.86A22.54 22.54 0 0 1 895.68 1014.06L881.28 1014.06A22.54 22.54 0 0 1 874.08 1006.86L874.08 992.46A22.54 22.54 0 0 1 881.28 985.26Z" fill="#ff0000"/>
<circle cx="920.12" cy="999.66" r="6.28" fill="#ffe5e5"/>
<circle cx="951.75" cy="999.66" r="6.36" fill="#ffdbdb" stroke="#ffd0d0" stroke-width="0.8"/>
<circle cx="983.38" cy="999.66" r="3.38" fill="#fafffa"/>
<circle cx="1015.02" cy="999.66" r="2.42" fill="#fffafa"/>
<circle cx="1046.65" cy="999.66" r="3.38" fill="#fafffa"/>
<circle cx="1078.28" cy="999.66" r="5.15" fill="#ffefef"/>
<circle cx="1109.92" cy="999.66" r="4.68" fill="#ffefef"/>
<circle cx="1141.55" cy="999.66" r="4.83" fill="#ffefef"/>
<circle cx="1173.18" cy="999.66" r="2.25" fill="#fafffa"/>
<circle cx="1204.82" cy="999.66" r="3.38" fill="#fafffa"/>
<circle cx="1236.45" cy="999.66" r="3.22" fill="#fffafa"/>
<circle cx="1268.08" cy="999.66" r="3.62" fill="#fffafa"/>
<circle cx="1299.72" cy="999.66" r="6.28" fill="#ffe5e5"/>
<circle cx="1331.35" cy="999.66" r="5.31" fill="#ffefef"/>
<circle cx="1362.98" cy="999.66" r="9.10" fill="#ffa7a7" stroke="#ff9c9c" stroke-width="0.8"/>
<circle cx="1394.62" cy="999.66" r="2.82" fill="#fafffa"/>
<circle cx="1426.25" cy="999.66" r="4.99" fill="#ffefef"/>
<circle cx="1457.88" cy="999.66" r="4.03" fill="#fffafa"/>
<path d="M912.92 1016.88L927.32 1016.88A22.54 22.54 0 0 1 934.52 1024.08L934.52 1038.48A22.54 22.54 0 0 1 927.32 1045.68L912.92 1045.68A22.54 22.54 0 0 1 905.72 1038.48L905.72 1024.08A22.54 22.54 0 0 1 912.92 1016.88Z" fill="#ff0000"/>
<circle cx="951.75" cy="1031.28" r="10.55" fill="#ff8787" stroke="#ff7d7d" stroke-width="0.8"/>
<circle cx="983.38" cy="1031.28" r="3.86" fill="#fffafa"/>
<circle cx="1015.02" cy="1031.28" r="3.38" fill="#fafffa"/>
<circle cx="1046.65" cy="1031.28" r="4.68" fill="#ffefef"/>
<circle cx="1078.28" cy="1031.28" r="11.68" fill="#ff6868" stroke="#ff5e5e" stroke-width="0.8"/>
<circle cx="1109.92" cy="1031.28" r="9.58" fill="#ff9c9c" stroke="#ff9292" stroke-width="0.8"/>
<circle cx="1141.55" cy="1031.28" r="6.12" fill="#ffe5e5"/>
<circle cx="1173.18" cy="1031.28" r="2.42" fill="#fafffa"/>
<circle cx="1204.82" cy="1031.28" r="3.22" fill="#fffafa"/>
<circle cx="1236.45" cy="1031.28" r="2.25" fill="#fafffa"/>
<circle cx="1268.08" cy="1031.28" r="5.47" fill="#ffefef"/>
<circle cx="1299.72" cy="1031.28" r="6.36" fill="#ffdbdb" stroke="#ffd0d0" stroke-width="0.8"/>
<circle cx="1331.35" cy="1031.28" r="2.42" fill="#fafffa"/>
<circle cx="1362.98" cy="1031.28" r="5.80" fill="#ffe5e5"/>
<circle cx="1394.62" cy="1031.28" r="5.15" fill="#ffefef"/>
<circle cx="1426.25" cy="1031.28" r="3.22" fill="#fafffa"/>
<circle cx="1457.88" cy="1031.28" r="5.31" fill="#ffefef"/>
<path d="M944.55 1048.50L958.95 1048.50A22.54 22.54 0 0 1 966.15 1055.70L966.15 1070.10A22.54 22.54 0 0 1 958.95 1077.30L944.55 1077.30A22.54 22.54 0 0 1 937.35 1070.10L937.35 1055.70A22.54 22.54 0 0 1 944.55 1048.50Z" fill="#ff0000"/>
<circle cx="983.38" cy="1062.90" r="4.68" fill="#ffefef"/>
<circle cx="1015.02" cy="1062.90" r="2.82" fill="#fafffa"/>
<circle cx="1046.65" cy="1062.90" r="3.86" fill="#fffafa"/>
<circle cx="1078.28" cy="1062.90" r="8.94" fill="#ffb1b1" stroke="#ffa7a7" stroke-width="0.8"/>
<circle cx="1109.92" cy="1062.90" r="6.69" fill="#ffd0d0" stroke="#ffc6c6" stroke-width="0.8"/>
<circle cx="1141.55" cy="1062.90" r="7.65" fill="#ffc6c6" stroke="#ffbbbb" stroke-width="0.8"/>
<circle cx="1173.18" cy="1062.90" r="5.80" fill="#ffe5e5"/>
<circle cx="1204.82" cy="1062.90" r="3.38" fill="#fffafa"/>
<circle cx="1236.45" cy="1062.90" r="6.85" fill="#ffd0d0" stroke="#ffc6c6" stroke-width="0.8"/>
<circle cx="1268.08" cy="1062.90" r="9.58" fill="#ff9c9c" stroke="#ff9292" stroke-width="0.8"/>
<circle cx="1299.72" cy="1062.90" r="9.10" fill="#ffa7a7" stroke="#ff9c9c" stroke-width="0.8"/>
<circle cx="1331.35" cy="1062.90" r="2.42" fill="#fafffa"/>
<circle cx="1362.98" cy="1062.90" r="6.28" fill="#ffe5e5"/>
<circle cx="1394.62" cy="1062.90" r="6.28" fill="#ffe5e5"/>
<circle cx="1426.25" cy="1062.90" r="6.12" fill="#ffe5e5"/>
<circle cx="1457.88" cy="1062.90" r="6.28" fill="#ffe5e5"/>
<path d="M976.18 1080.12L990.58 1080.12A22.54 22.54 0 0 1 997.78 1087.32L997.78 1101.72A22.54 22.54 0 0 1 990.58 1108.92L976.18 1108.92A22.54 22.54 0 0 1 968.98 1101.72L968.98 1087.32A22.54 22.54 0 0 1 976.18 1080.12Z" fill="#ff0000"/>
<circle cx="1015.02" cy="1094.52" r="6.12" fill="#ffe5e5"/>
<circle cx="1046.65" cy="1094.52" r="4.68" fill="#ffefef"/>
<circle cx="1078.28" cy="1094.52" r="4.68" fill="#ffefef"/>
<circle cx="1109.92" cy="1094.52" r="2.25" fill="#fffafa"/>
<circle cx="1141.55" cy="1094.52" r="5.15" fill="#ffefef"/>
<circle cx="1173.18" cy="1094.52" r="3.62" fill="#fffafa"/>
<circle cx="1204.82" cy="1094.52" r="2.42" fill="#fafffa"/>
<circle cx="1236.45" cy="1094.52" r="3.38" fill="#fffafa"/>
<circle cx="1268.08" cy="1094.52" r="5.31" fill="#ffefef"/>
<circle cx="1299.72" cy="1094.52" r="3.38" fill="#fffafa"/>
<circle cx="1331.35" cy="1094.52" r="4.03" fill="#fffafa"/>
<circle cx="1362.98" cy="1094.52" r="3.22" fill="#fffafa"/>
<circle cx="1394.62" cy="1094.52" r="5.31" fill="#ffefef"/>
<circle cx="1426.25" cy="1094.52" r="4.99" fill="#efffef"/>
<circle cx="1457.88" cy="1094.52" r="4.99" fill="#ffefef"/>
<path d="M1007.82 1111.74L1022.22 1111.74A22.54 22.54 0 0 1 1029.42 1118.94L1029.42 1133.34A22.54 22.54 0 0 1 1022.22 1140.54L1007.82 1140.54A22.54 22.54 0 0 1 1000.62 1133.34L1000.62 1118.94A22.54 22.54 0 0 1 1007.82 1111.74Z" fill="#ff0000"/>
<circle cx="1046.65" cy="1126.14" r="3.22" fill="#fffafa"/>
<circle cx="1078.28" cy="1126.14" r="2.82" fill="#fafffa"/>
<circle cx="1109.92" cy="1126.14" r="2.01" fill="#fffafa"/>
<circle cx="1141.55" cy="1126.14" r="4.68" fill="#ffefef"/>
<circle cx="1173.18" cy="1126.14" r="2.82" fill="#fafffa"/>
<circle cx="1204.82" cy="1126.14" r="3.62" fill="#fafffa"/>
<circle cx="1236.45" cy="1126.14" r="6.85" fill="#ffd0d0" stroke="#ffc6c6" stroke-width="0.8"/>
<circle cx="1268.08" cy="1126.14" r="3.38" fill="#fffafa"/>
<circle cx="1299.72" cy="1126.14" r="3.22" fill="#fffafa"/>
<circle cx="1331.35" cy="1126.14" r="6.12" fill="#ffe5e5"/>
<circle cx="1362.98" cy="1126.14" r="6.69" fill="#ffd0d0" stroke="#ffc6c6" stroke-width="0.8"/>
<circle cx="1394.62" cy="1126.14" r="4.68" fill="#ffefef"/>
<circle cx="1426.25" cy="1126.14" r="6.36" fill="#ffdbdb" stroke="#ffd0d0" stroke-width="0.8"/>
<circle cx="1457.88" cy="1126.14" r="5.15" fill="#ffefef"/>
<path d="M1039.45 1143.35L1053.85 1143.35A22.54 22.54 0 0 1 1061.05 1150.55L1061.05 1164.96A22.54 22.54 0 0 1 1053.85 1172.15L1039.45 1172.15A22.54 22.54 0 0 1 1032.25 1164.96L1032.25 1150.55A22.54 22.54 0 0 1 1039.45 1143.35Z" fill="#ff0000"/>
<circle cx="1078.28" cy="1157.75" r="8.30" fill="#ffbbbb" stroke="#ffb1b1" stroke-width="0.8"/>
<circle cx="1109.92" cy="1157.75" r="6.85" fill="#ffd0d0" stroke="#ffc6c6" stroke-width="0.8"/>
<circle cx="1141.55" cy="1157.75" r="6.28" fill="#ffe5e5"/>
<circle cx="1173.18" cy="1157.75" r="2.01" fill="#fafffa"/>
<circle cx="1204.82" cy="1157.75" r="2.42" fill="#fafffa"/>
<circle cx="1236.45" cy="1157.75" r="4.68" fill="#ffefef"/>
<circle cx="1268.08" cy="1157.75" r="7.17" fill="#ffd0d0" stroke="#ffc6c6" stroke-width="0.8"/>
<circle cx="1299.72" cy="1157.75" r="7.81" fill="#ffc6c6" stroke="#ffbbbb" stroke-width="0.8"/>
<circle cx="1331.35" cy="1157.75" r="3.22" fill="#fafffa"/>
<circle cx="1362.98" cy="1157.75" r="2.25" fill="#fafffa"/>
<circle cx="1394.62" cy="1157.75" r="4.03" fill="#fffafa"/>
<circle cx="1426.25" cy="1157.75" r="3.22" fill="#fafffa"/>
<circle cx="1457.88" cy="1157.75" r="2.82" fill="#fffafa"/>
<path d="M1071.08 1174.97L1085.48 1174.97A22.54 22.54 0 0 1 1092.68 1182.17L1092.68 1196.57A22.54 22.54 0 0 1 1085.48 1203.77L1071.08 1203.77A22.54 22.54 0 0 1 1063.88 1196.57L1063.88 1182.17A22.54 22.54 0 0 1 1071.08 1174.97Z" fill="#ff0000"/>
<circle cx="1109.92" cy="1189.37" r="13.50" fill="#ff3e3e" stroke="#ff3434" stroke-width="0.8"/>
<circle cx="1141.55" cy="1189.37" r="6.85" fill="#ffd0d0" stroke="#ffc6c6" stroke-width="0.8"/>
<circle cx="1173.18" cy="1189.37" r="2.01" fill="#fafffa"/>
<circle cx="1204.82" cy="1189.37" r="2.01" fill="#fafffa"/>
<circle cx="1236.45" cy="1189.37" r="3.38" fill="#fafffa"/>
<circle cx="1268.08" cy="1189.37" r="3.62" fill="#fffafa"/>
<circle cx="1299.72" cy="1189.37" r="7.17" fill="#ffd0d0" stroke="#ffc6c6" stroke-width="0.8"/>
<circle cx="1331.35" cy="1189.37" r="3.38" fill="#fafffa"/>
<circle cx="1362.98" cy="1189.37" r="4.68" fill="#ffefef"/>
<circle cx="1394.62" cy="1189.37" r="4.99" fill="#ffefef"/>
<circle cx="1426.25" cy="1189.37" r="3.86" fill="#fafffa"/>
<circle cx="1457.88" cy="1189.37" r="4.99" fill="#ffefef"/>
<path d="M1102.72 1206.59L1117.12 1206.59A22.54 22.54 0 0 1 1124.32 1213.79L1124.32 1228.19A22.54 22.54 0 0 1 1117.12 1235.39L1102.72 1235.39A22.54 22.54 0 0 1 1095.52 1228.19L1095.52 1213.79A22.54 22.54 0 0 1 1102.72 1206.59Z" fill="#ff0000"/>
<circle cx="1141.55" cy="1220.99" r="6.53" fill="#ffd0d0" stroke="#ffc6c6" stroke-width="0.8"/>
<circle cx="1173.18" cy="1220.99" r="2.01" fill="#fafffa"/>
<circle cx="1204.82" cy="1220.99" r="2.01" fill="#fafffa"/>
<circle cx="1236.45" cy="1220.99" r="2.01" fill="#fffafa"/>
<circle cx="1268.08" cy="1220.99" r="5.96" fill="#ffe5e5"/>
<circle cx="1299.72" cy="1220.99" r="6.20" fill="#ffdbdb" stroke="#ffd0d0" stroke-width="0.8"/>
<circle cx="1331.35" cy="1220.99" r="3.62" fill="#fafffa"/>
<circle cx="1362.98" cy="1220.99" r="3.38" fill="#fffafa"/>
<circle cx="1394.62" cy="1220.99" r="2.01" fill="#fafffa"/>
<circle cx="1426.25" cy="1220.99" r="2.01" fill="#fffafa"/>
<circle cx="1457.88" cy="1220.99" r="3.86" fill="#fffafa"/>
<path d="M1134.35 1238.21L1148.75 1238.21A22.54 22.54 0 0 1 1155.95 1245.41L1155.95 1259.81A22.54 22.54 0 0 1 1148.75 1267.01L1134.35 1267.01A22.54 22.54 0 0 1 1127.15 1259.81L1127.15 1245.41A22.54 22.54 0 0 1 1134.35 1238.21Z" fill="#ff0000"/>
<circle cx="1173.18" cy="1252.61" r="6.04" fill="#ffdbdb" stroke="#ffd0d0" stroke-width="0.8"/>
<circle cx="1204.82" cy="1252.61" r="3.38" fill="#fafffa"/>
<circle cx="1236.45" cy="1252.61" r="5.96" fill="#ffe5e5"/>
<circle cx="1268.08" cy="1252.61" r="7.33" fill="#ffc6c6" stroke="#ffbbbb" stroke-width="0.8"/>
<circle cx="1299.72" cy="1252.61" r="7.17" fill="#ffd0d0" stroke="#ffc6c6" stroke-width="0.8"/>
<circle cx="1331.35" cy="1252.61" r="5.64" fill="#ffefef"/>
<circle cx="1362.98" cy="1252.61" r="7.33" fill="#ffc6c6" stroke="#ffbbbb" stroke-width="0.8"/>
<circle cx="1394.62" cy="1252.61" r="4.68" fill="#ffefef"/>
<circle cx="1426.25" cy="1252.61" r="6.36" fill="#ffdbdb" stroke="#ffd0d0" stroke-width="0.8"/>
<circle cx="1457.88" cy="1252.61" r="4.68" fill="#ffefef"/>
<path d="M1165.98 1269.83L1180.38 1269.83A22.54 22.54 0 0 1 1187.58 1277.03L1187.58 1291.43A22.54 22.54 0 0 1 1180.38 1298.63L1165.98 1298.63A22.54 22.54 0 0 1 1158.78 1291.43L1158.78 1277.03A22.54 22.54 0 0 1 1165.98 1269.83Z" fill="#ff0000"/>
<circle cx="1204.82" cy="1284.23" r="2.01" fill="#fafffa"/>
<circle cx="1236.45" cy="1284.23" r="6.12" fill="#ffe5e5"/>
<circle cx="1268.08" cy="1284.23" r="4.68" fill="#ffefef"/>
<circle cx="1299.72" cy="1284.23" r="6.85" fill="#ffd0d0" stroke="#ffc6c6" stroke-width="0.8"/>
<circle cx="1331.35" cy="1284.23" r="3.06" fill="#fafffa"/>
<circle cx="1362.98" cy="1284.23" r="3.22" fill="#fafffa"/>
<circle cx="1394.62" cy="1284.23" r="4.68" fill="#ffefef"/>
<circle cx="1426.25" cy="1284.23" r="3.06" fill="#fafffa"/>
<circle cx="1457.88" cy="1284.23" r="3.06" fill="#fffafa"/>
<path d="M1197.62 1301.45L1212.02 1301.45A22.54 22.54 0 0 1 1219.22 1308.64L1219.22 1323.05A22.54 22.54 0 0 1 1212.02 1330.25L1197.62 1330.25A22.54 22.54 0 0 1 1190.42 1323.05L1190.42 1308.64A22.54 22.54 0 0 1 1197.62 1301.45Z" fill="#ff0000"/>
<circle cx="1236.45" cy="1315.85" r="4.99" fill="#ffefef"/>
<circle cx="1268.08" cy="1315.85" r="4.68" fill="#ffefef"/>
<circle cx="1299.72" cy="1315.85" r="5.96" fill="#ffe5e5"/>
<circle cx="1331.35" cy="1315.85" r="2.01" fill="#fffafa"/>
<circle cx="1362.98" cy="1315.85" r="3.06" fill="#fafffa"/>
<circle cx="1394.62" cy="1315.85" r="3.38" fill="#fafffa"/>
<circle cx="1426.25" cy="1315.85" r="2.42" fill="#fffafa"/>
<circle cx="1457.88" cy="1315.85" r="3.22" fill="#fffafa"/>
<path d="M1229.25 1333.06L1243.65 1333.06A22.54 22.54 0 0 1 1250.85 1340.26L1250.85 1354.66A22.54 22.54 0 0 1 1243.65 1361.86L1229.25 1361.86A22.54 22.54 0 0 1 1222.05 1354.66L1222.05 1340.26A22.54 22.54 0 0 1 1229.25 1333.06Z" fill="#ff0000"/>
<circle cx="1268.08" cy="1347.46" r="7.65" fill="#ffc6c6" stroke="#ffbbbb" stroke-width="0.8"/>
<circle cx="1299.72" cy="1347.46" r="8.14" fill="#ffbbbb" stroke="#ffb1b1" stroke-width="0.8"/>
<circle cx="1331.35" cy="1347.46" r="2.82" fill="#fffafa"/>
<circle cx="1362.98" cy="1347.46" r="4.68" fill="#ffefef"/>
<circle cx="1394.62" cy="1347.46" r="4.68" fill="#ffefef"/>
<circle cx="1426.25" cy="1347.46" r="6.28" fill="#ffe5e5"/>
<circle cx="1457.88" cy="1347.46" r="4.83" fill="#ffefef"/>
<path d="M1260.88 1364.68L1275.28 1364.68A22.54 22.54 0 0 1 1282.48 1371.88L1282.48 1386.28A22.54 22.54 0 0 1 1275.28 1393.48L1260.88 1393.48A22.54 22.54 0 0 1 1253.68 1386.28L1253.68 1371.88A22.54 22.54 0 0 1 1260.88 1364.68Z" fill="#ff0000"/>
<circle cx="1299.72" cy="1379.08" r="9.42" fill="#ffa7a7" stroke="#ff9c9c" stroke-width="0.8"/>
<circle cx="1331.35" cy="1379.08" r="3.06" fill="#fffafa"/>
<circle cx="1362.98" cy="1379.08" r="4.68" fill="#ffefef"/>
<circle cx="1394.62" cy="1379.08" r="4.68" fill="#ffefef"/>
<circle cx="1426.25" cy="1379.08" r="5.31" fill="#ffefef"/>
<circle cx="1457.88" cy="1379.08" r="4.99" fill="#ffefef"/>
<path d="M1292.52 1396.30L1306.92 1396.30A22.54 22.54 0 0 1 1314.12 1403.50L1314.12 1417.90A22.54 22.54 0 0 1 1306.92 1425.10L1292.52 1425.10A22.54 22.54 0 0 1 1285.32 1417.90L1285.32 1403.50A22.54 22.54 0 0 1 1292.52 1396.30Z" fill="#ff0000"/>
<circle cx="1331.35" cy="1410.70" r="3.38" fill="#fffafa"/>
<circle cx="1362.98" cy="1410.70" r="4.68" fill="#ffefef"/>
<circle cx="1394.62" cy="1410.70" r="4.83" fill="#ffefef"/>
<circle cx="1426.25" cy="1410.70" r="2.42" fill="#fafffa"/>
<circle cx="1457.88" cy="1410.70" r="3.86" fill="#fffafa"/>
<path d="M1324.15 1427.92L1338.55 1427.92A22.54 22.54 0 0 1 1345.75 1435.12L1345.75 1449.52A22.54 22.54 0 0 1 1338.55 1456.72L1324.15 1456.72A22.54 22.54 0 0 1 1316.95 1449.52L1316.95 1435.12A22.54 22.54 0 0 1 1324.15 1427.92Z" fill="#ff0000"/>
<circle cx="1362.98" cy="1442.32" r="11.95" fill="#ff7272" stroke="#ff6868" stroke-width="0.8"/>
<circle cx="1394.62" cy="1442.32" r="4.68" fill="#ffefef"/>
<circle cx="1426.25" cy="1442.32" r="6.12" fill="#ffe5e5"/>
<circle cx="1457.88" cy="1442.32" r="4.68" fill="#ffefef"/>
<path d="M1355.78 1459.54L1370.18 1459.54A22.54 22.54 0 0 1 1377.38 1466.74L1377.38 1481.14A22.54 22.54 0 0 1 1370.18 1488.34L1355.78 1488.34A22.54 22.54 0 0 1 1348.58 1481.14L1348.58 1466.74A22.54 22.54 0 0 1 1355.78 1459.54Z" fill="#ff0000"/>
<circle cx="1394.62" cy="1473.94" r="4.68" fill="#ffefef"/>
<circle cx="1426.25" cy="1473.94" r="7.97" fill="#ffbbbb" stroke="#ffb1b1" stroke-width="0.8"/>
<circle cx="1457.88" cy="1473.94" r="5.64" fill="#ffefef"/>
<path d="M1387.42 1491.15L1401.82 1491.15A22.54 22.54 0 0 1 1409.02 1498.35L1409.02 1512.76A22.54 22.54 0 0 1 1401.82 1519.95L1387.42 1519.95A22.54 22.54 0 0 1 1380.22 1512.76L1380.22 1498.35A22.54 22.54 0 0 1 1387.42 1491.15Z" fill="#ff0000"/>
<circle cx="1426.25" cy="1505.55" r="5.96" fill="#ffe5e5"/>
<circle cx="1457.88" cy="1505.55" r="5.47" fill="#ffefef"/>
<path d="M1419.05 1522.77L1433.45 1522.77A22.54 22.54 0 0 1 1440.65 1529.97L1440.65 1544.37A22.54 22.54 0 0 1 1433.45 1551.57L1419.05 1551.57A22.54 22.54 0 0 1 1411.85 1544.37L1411.85 1529.97A22.54 22.54 0 0 1 1419.05 1522.77Z" fill="#ff0000"/>
<circle cx="1457.88" cy="1537.17" r="6.36" fill="#ffdbdb" stroke="#ffd0d0" stroke-width="0.8"/>
<path d="M1450.68 1554.39L1465.08 1554.39A22.54 22.54 0 0 1 1472.28 1561.59L1472.28 1575.99A22.54 22.54 0 0 1 1465.08 1583.19L1450.68 1583.19A22.54 22.54 0 0 1 1443.48 1575.99L1443.48 1561.59A22.54 22.54 0 0 1 1450.68 1554.39Z" fill="#ff0000"/>
<text class="tl" x="417.00" y="567.21" text-anchor="end">Ejection Fraction</text>
<text class="tl" x="449.33" y="602.23" text-anchor="end">Numbers of arterial anastomosis</text>
<text class="tl" x="484.17" y="634.15" text-anchor="end">Gender</text>
<text class="tl" x="511.40" y="664.16" text-anchor="end">Smoking</text>
<text class="tl" x="544.23" y="698.38" text-anchor="end">PCI</text>
<text class="tl" x="578.37" y="727.30" text-anchor="end">Ventricular aneurysm</text>
<text class="tl" x="605.10" y="760.42" text-anchor="end">NYHA</text>
<text class="tl" x="641.23" y="791.44" text-anchor="end">Left ventricular size</text>
<text class="tl" x="664.57" y="820.25" text-anchor="end">Heartstop</text>
<text class="tl" x="706.80" y="853.27" text-anchor="end">Cardiopulmonary bypass time</text>
<text class="tl" x="734.73" y="884.29" text-anchor="end">Aortic cross−clamp time</text>
<text class="tl" x="771.37" y="918.51" text-anchor="end">Numbers of stenosed coronary vessel</text>
<text class="tl" x="800.60" y="949.03" text-anchor="end">bridgenumber</text>
<text class="tl" x="834.13" y="980.45" text-anchor="end">Numbers of venous anastomosis</text>
<text class="tl" x="862.47" y="1009.46" text-anchor="end">Renal artery stenosis</text>
<text class="tl" x="891.70" y="1041.98" text-anchor="end">Renal insufficiency</text>
<text class="tl" x="926.33" y="1074.60" text-anchor="end">Complications</text>
<text class="tl" x="955.87" y="1106.42" text-anchor="end">Hyperlipidemia</text>
<text class="tl" x="984.70" y="1137.54" text-anchor="end">Cerebrovascular accident</text>
<text class="tl" x="1018.43" y="1165.55" text-anchor="end">Emergency</text>
<text class="tl" x="1055.47" y="1198.67" text-anchor="end">Creatinine value</text>
<text class="tl" x="1085.20" y="1232.39" text-anchor="end">Hemodialysis</text>
<text class="tl" x="1113.33" y="1267.01" text-anchor="end">COPD</text>
<text class="tl" x="1146.67" y="1299.23" text-anchor="end">ECMO</text>
<text class="tl" x="1180.40" y="1325.05" text-anchor="end">Reoperation</text>
<text class="tl" x="1207.63" y="1358.96" text-anchor="end">Arrhythmia</text>
<text class="tl" x="1242.67" y="1390.18" text-anchor="end">Mechanical ventilation</text>
<text class="tl" x="1271.00" y="1421.30" text-anchor="end">IABP</text>
<text class="tl" x="1303.73" y="1453.12" text-anchor="end">Carotid artery stenosis</text>
<text class="tl" x="1339.07" y="1485.04" text-anchor="end">Peripheral vascular disease</text>
<text class="tl" x="1367.90" y="1518.75" text-anchor="end">Diabetes</text>
<text class="tl" x="1404.23" y="1548.07" text-anchor="end">Age</text>
<text class="tl" x="1434.67" y="1580.19" text-anchor="end">Hypertension</text>
<text class="tl" transform="translate(458.32 522.45) rotate(-90)">Ejection Fraction</text>
<text class="tl" transform="translate(495.15 522.45) rotate(-90)">Numbers of arterial anastomosis</text>
<text class="tl" transform="translate(527.28 522.45) rotate(-90)">Gender</text>
<text class="tl" transform="translate(553.92 522.45) rotate(-90)">Smoking</text>
<text class="tl" transform="translate(590.05 522.45) rotate(-90)">PCI</text>
<text class="tl" transform="translate(616.48 522.45) rotate(-90)">Ventricular aneurysm</text>
<text class="tl" transform="translate(653.32 522.45) rotate(-90)">NYHA</text>
<text class="tl" transform="translate(684.65 522.45) rotate(-90)">Left ventricular size</text>
<text class="tl" transform="translate(711.68 522.45) rotate(-90)">Heartstop</text>
<text class="tl" transform="translate(743.02 522.45) rotate(-90)">Cardiopulmonary bypass time</text>
<text class="tl" transform="translate(774.65 522.45) rotate(-90)">Aortic cross−clamp time</text>
<text class="tl" transform="translate(805.78 522.45) rotate(-90)">Numbers of stenosed coronary vessel</text>
<text class="tl" transform="translate(837.92 522.45) rotate(-90)">bridgenumber</text>
<text class="tl" transform="translate(874.05 522.45) rotate(-90)">Numbers of venous anastomosis</text>
<text class="tl" transform="translate(900.88 522.45) rotate(-90)">Renal artery stenosis</text>
<text class="tl" transform="translate(933.12 522.45) rotate(-90)">Renal insufficiency</text>
<text class="tl" transform="translate(964.45 522.45) rotate(-90)">Complications</text>
<text class="tl" transform="translate(996.08 522.45) rotate(-90)">Hyperlipidemia</text>
<text class="tl" transform="translate(1033.72 522.45) rotate(-90)">Cerebrovascular accident</text>
<text class="tl" transform="translate(1059.35 522.45) rotate(-90)">Emergency</text>
<text class="tl" transform="translate(1096.98 522.45) rotate(-90)">Creatinine value</text>
<text class="tl" transform="translate(1122.32 522.45) rotate(-90)">Hemodialysis</text>
<text class="tl" transform="translate(1159.45 522.45) rotate(-90)">COPD</text>
<text class="tl" transform="translate(1190.48 522.45) rotate(-90)">ECMO</text>
<text class="tl" transform="translate(1217.52 522.45) rotate(-90)">Reoperation</text>
<text class="tl" transform="translate(1249.15 522.45) rotate(-90)">Arrhythmia</text>
<text class="tl" transform="translate(1285.28 522.45) rotate(-90)">Mechanical ventilation</text>
<text class="tl" transform="translate(1316.92 522.45) rotate(-90)">IABP</text>
<text class="tl" transform="translate(1344.05 522.45) rotate(-90)">Carotid artery stenosis</text>
<text class="tl" transform="translate(1375.68 522.45) rotate(-90)">Peripheral vascular disease</text>
<text class="tl" transform="translate(1412.12 522.45) rotate(-90)">Diabetes</text>
<text class="tl" transform="translate(1438.20 522.45) rotate(-90)">Age</text>
<text class="tl" transform="translate(1470.28 522.45) rotate(-90)">Hypertension</text>
<rect x="1493.80" y="541.00" width="39.60" height="21.43" fill="#ff0000"/>
<rect x="1493.80" y="561.93" width="39.60" height="21.43" fill="#ff0a0a"/>
<rect x="1493.80" y="582.85" width="39.60" height="21.43" fill="#ff1515"/>
<rect x="1493.80" y="603.78" width="39.60" height="21.43" fill="#ff1f1f"/>
<rect x="1493.80" y="624.71" width="39.60" height="21.43" fill="#ff2a2a"/>
<rect x="1493.80" y="645.63" width="39.60" height="21.43" fill="#ff3434"/>
<rect x="1493.80" y="666.56" width="39.60" height="21.43" fill="#ff3e3e"/>
<rect x="1493.80" y="687.49" width="39.60" height="21.43" fill="#ff4949"/>
<rect x="1493.80" y="708.42" width="39.60" height="21.43" fill="#ff5353"/>
<rect x="1493.80" y="729.34" width="39.60" height="21.43" fill="#ff5e5e"/>
<rect x="1493.80" y="750.27" width="39.60" height="21.43" fill="#ff6868"/>
<rect x="1493.80" y="771.20" width="39.60" height="21.43" fill="#ff7272"/>
<rect x="1493.80" y="792.12" width="39.60" height="21.43" fill="#ff7d7d"/>
<rect x="1493.80" y="813.05" width="39.60" height="21.43" fill="#ff8787"/>
<rect x="1493.80" y="833.98" width="39.60" height="21.43" fill="#ff9292"/>
<rect x="1493.80" y="854.90" width="39.60" height="21.43" fill="#ff9c9c"/>
<rect x="1493.80" y="875.83" width="39.60" height="21.43" fill="#ffa7a7"/>
<rect x="1493.80" y="896.76" width="39.60" height="21.43" fill="#ffb1b1"/>
<rect x="1493.80" y="917.69" width="39.60" height="21.43" fill="#ffbbbb"/>
<rect x="1493.80" y="938.61" width="39.60" height="21.43" fill="#ffc6c6"/>
<rect x="1493.80" y="959.54" width="39.60" height="21.43" fill="#ffd0d0"/>
<rect x="1493.80" y="980.47" width="39.60" height="21.43" fill="#ffdbdb"/>
<rect x="1493.80" y="1001.39" width="39.60" height="21.43" fill="#ffe5e5"/>
<rect x="1493.80" y="1022.32" width="39.60" height="21.43" fill="#ffefef"/>
<rect x="1493.80" y="1043.25" width="39.60" height="21.35" fill="#fffafa"/>
<rect x="1493.80" y="1064.10" width="39.60" height="21.35" fill="#fafffa"/>
<rect x="1493.80" y="1084.95" width="39.60" height="21.35" fill="#efffef"/>
<rect x="1493.80" y="1105.80" width="39.60" height="21.35" fill="#e5ffe5"/>
<rect x="1493.80" y="1126.66" width="39.60" height="21.35" fill="#dbffdb"/>
<rect x="1493.80" y="1147.51" width="39.60" height="21.35" fill="#d0ffd0"/>
<rect x="1493.80" y="1168.36" width="39.60" height="21.35" fill="#c6ffc6"/>
<rect x="1493.80" y="1189.21" width="39.60" height="21.35" fill="#bbffbb"/>
<rect x="1493.80" y="1210.06" width="39.60" height="21.35" fill="#b1ffb1"/>
<rect x="1493.80" y="1230.92" width="39.60" height="21.35" fill="#a7ffa7"/>
<rect x="1493.80" y="1251.77" width="39.60" height="21.35" fill="#9cff9c"/>
<rect x="1493.80" y="1272.62" width="39.60" height="21.35" fill="#92ff92"/>
<rect x="1493.80" y="1293.47" width="39.60" height="21.35" fill="#87ff87"/>
<rect x="1493.80" y="1314.32" width="39.60" height="21.35" fill="#7dff7d"/>
<rect x="1493.80" y="1335.18" width="39.60" height="21.35" fill="#72ff72"/>
<rect x="1493.80" y="1356.03" width="39.60" height="21.35" fill="#68ff68"/>
<rect x="1493.80" y="1376.88" width="39.60" height="21.35" fill="#5eff5e"/>
<rect x="1493.80" y="1397.73" width="39.60" height="21.35" fill="#53ff53"/>
<rect x="1493.80" y="1418.58" width="39.60" height="21.35" fill="#49ff49"/>
<rect x="1493.80" y="1439.44" width="39.60" height="21.35" fill="#3eff3e"/>
<rect x="1493.80" y="1460.29" width="39.60" height="21.35" fill="#34ff34"/>
<rect x="1493.80" y="1481.14" width="39.60" height="21.35" fill="#2aff2a"/>
<rect x="1493.80" y="1501.99" width="39.60" height="21.35" fill="#1fff1f"/>
<rect x="1493.80" y="1522.84" width="39.60" height="21.35" fill="#15ff15"/>
<rect x="1493.80" y="1543.70" width="39.60" height="21.35" fill="#0aff0a"/>
<rect x="1493.80" y="1564.55" width="39.60" height="19.05" fill="#00ff00"/>
<rect x="1493.80" y="541.00" width="39.60" height="1042.60" fill="none" stroke="#000" stroke-width="2.8"/>
<text class="cl" transform="translate(1582.50 556.10) scale(1 1.05)"><tspan dx="1.7">1</tspan></text>
<text class="cl" transform="translate(1583.30 660.36) scale(1 1.05)">0.8</text>
<text class="cl" transform="translate(1583.30 764.62) scale(1 1.05)">0.6</text>
<text class="cl" transform="translate(1583.30 868.88) scale(1 1.05)">0.4</text>
<text class="cl" transform="translate(1583.30 973.14) scale(1 1.05)">0.2</text>
<text class="cl" transform="translate(1583.30 1077.40) scale(1 1.05)">0</text>
<text class="cl" transform="translate(1583.30 1181.66) scale(1 1.05)">−0.2</text>
<text class="cl" transform="translate(1583.30 1285.92) scale(1 1.05)">−0.4</text>
<text class="cl" transform="translate(1583.30 1390.18) scale(1 1.05)">−0.6</text>
<text class="cl" transform="translate(1583.30 1494.44) scale(1 1.05)">−0.8</text>
<text class="cl" transform="translate(1582.50 1598.70) scale(1 1.05)">−<tspan dx="1.7">1</tspan></text>
<path d="M1533.40 541.00H1540.90M1533.40 645.26H1540.90M1533.40 749.52H1540.90M1533.40 853.78H1540.90M1533.40 958.04H1540.90M1533.40 1062.30H1540.90M1533.40 1166.56H1540.90M1533.40 1270.82H1540.90M1533.40 1375.08H1540.90M1533.40 1479.34H1540.90M1533.40 1583.60H1540.90" stroke="#000" stroke-width="2.8" stroke-linecap="round" fill="none"/>
</svg></body></html>
